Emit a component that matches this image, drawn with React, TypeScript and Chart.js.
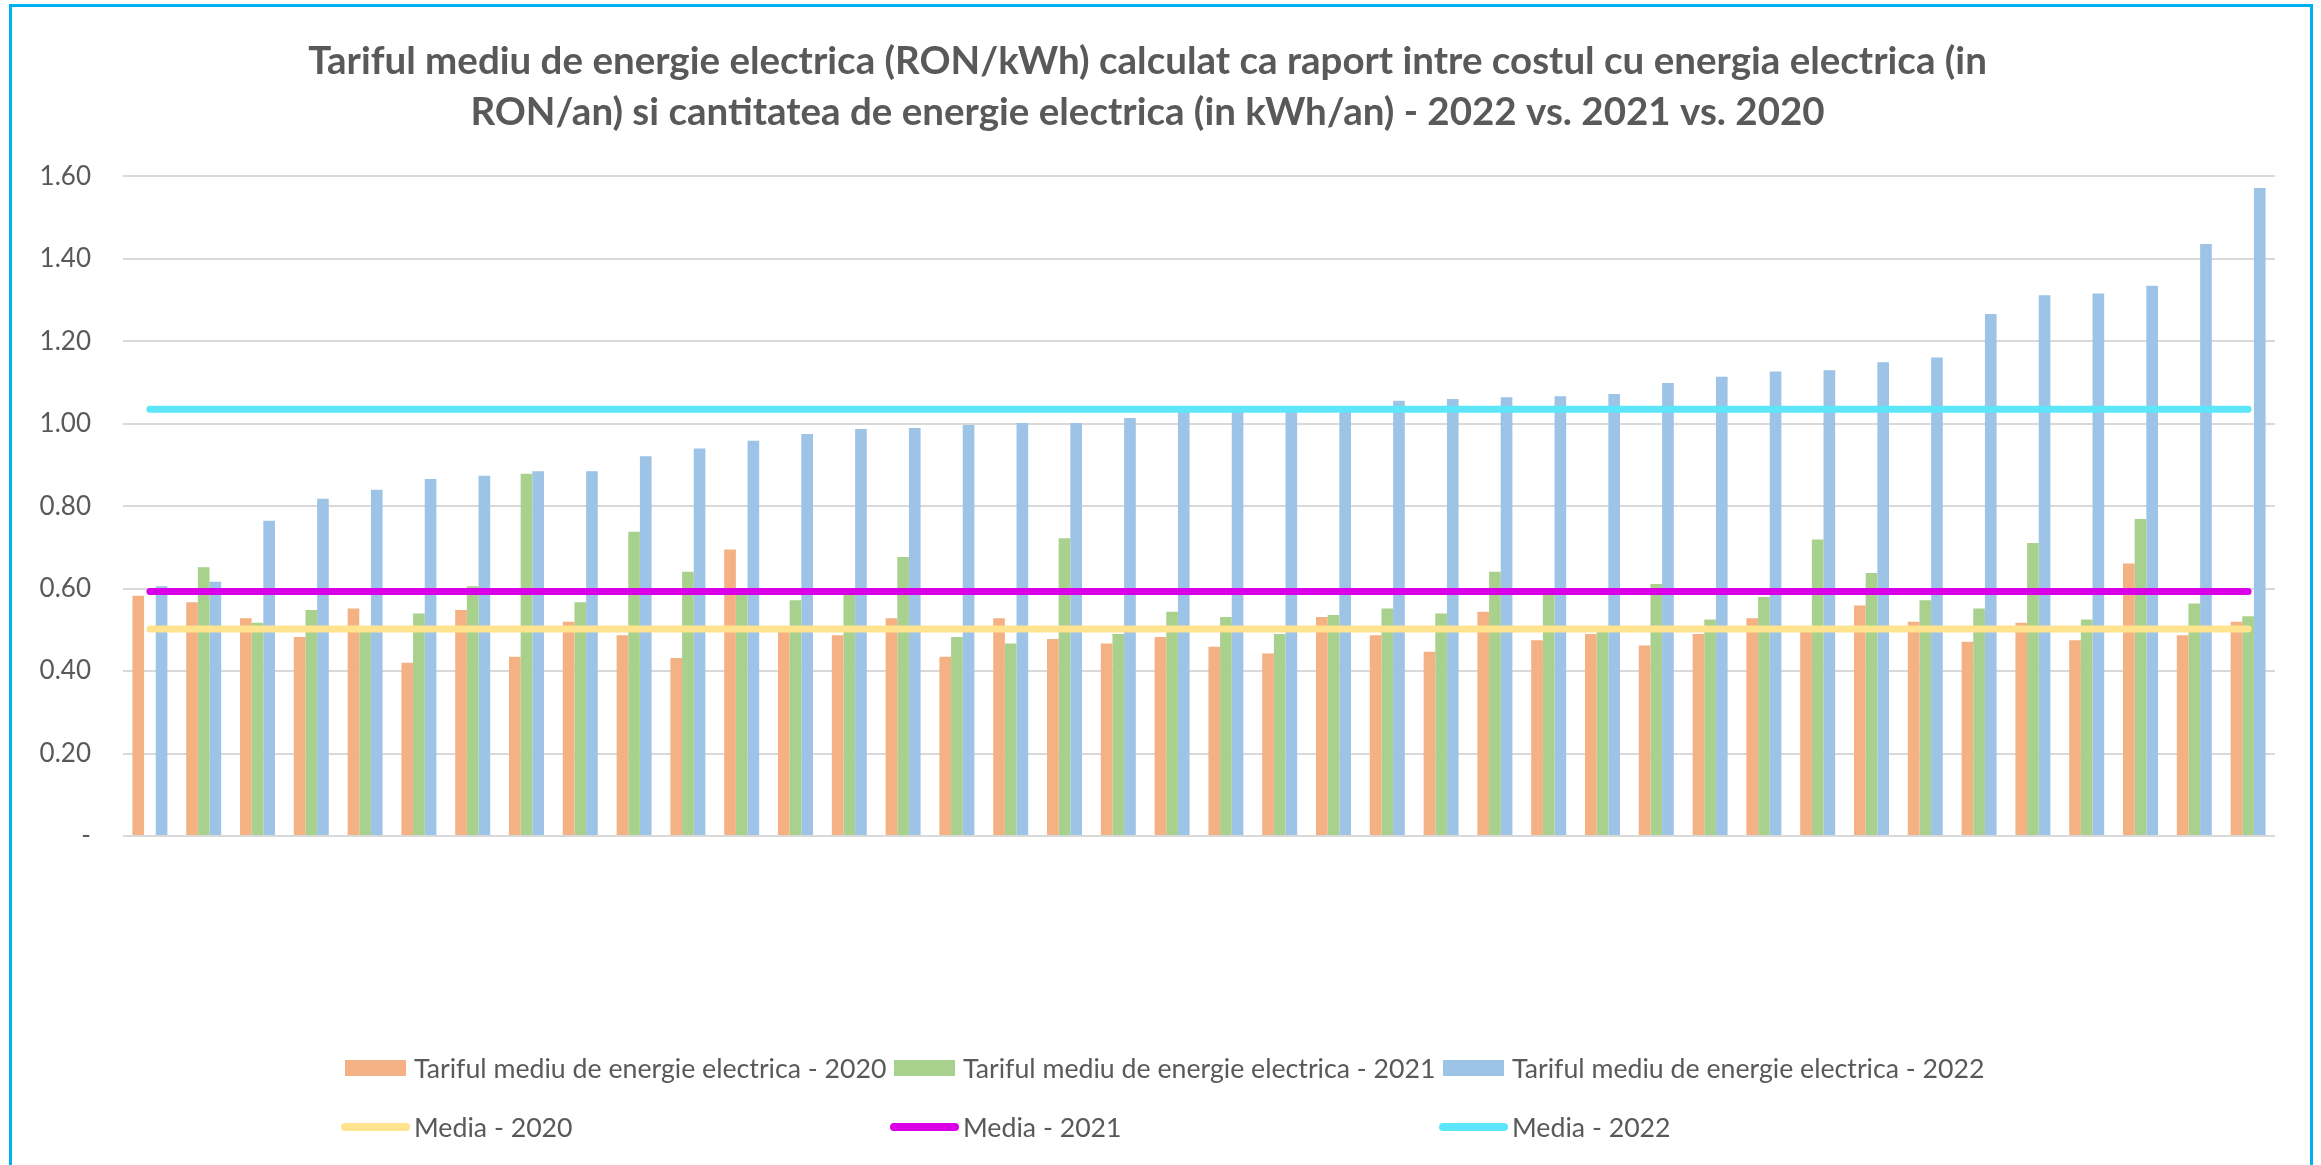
import { useEffect, useRef } from 'react';
import { Chart, registerables } from 'chart.js';

Chart.register(...registerables);

const FONT = 'Lato, "Open Sans", sans-serif';
const TEXT_COLOR = '#595959';

const titleLines = [
  'Tariful mediu de energie electrica (RON/kWh) calculat ca raport intre costul cu energia electrica (in',
  'RON/an) si cantitatea de energie electrica (in kWh/an) - 2022 vs. 2021 vs. 2020',
];

const categories = [
  '1', '2', '3', '4', '5', '6', '7', '8', '9', '10',
  '11', '12', '13', '14', '15', '16', '17', '18', '19', '20',
  '21', '22', '23', '24', '25', '26', '27', '28', '29', '30',
  '31', '32', '33', '34', '35', '36', '37', '38', '39', '40',
];

const tarif2020 = [
  0.583, 0.567, 0.528, 0.483, 0.552, 0.420, 0.548, 0.435, 0.520, 0.487,
  0.432, 0.695, 0.500, 0.487, 0.528, 0.435, 0.528, 0.478, 0.467, 0.483,
  0.459, 0.443, 0.531, 0.487, 0.447, 0.544, 0.475, 0.490, 0.462, 0.490,
  0.528, 0.500, 0.559, 0.520, 0.471, 0.517, 0.475, 0.661, 0.487, 0.520,
];

const tarif2021 = [
  null, 0.652, 0.517, 0.548, 0.500, 0.540, 0.606, 0.879, 0.567, 0.738,
  0.641, 0.585, 0.572, 0.585, 0.677, 0.483, 0.467, 0.722, 0.490, 0.544,
  0.531, 0.490, 0.536, 0.552, 0.540, 0.641, 0.585, 0.495, 0.611, 0.525,
  0.580, 0.719, 0.638, 0.572, 0.552, 0.711, 0.525, 0.769, 0.564, 0.533,
];

const tarif2022 = [
  0.606, 0.617, 0.765, 0.818, 0.840, 0.866, 0.874, 0.885, 0.885, 0.921,
  0.940, 0.959, 0.975, 0.987, 0.990, 0.997, 1.002, 1.002, 1.014, 1.030,
  1.035, 1.036, 1.040, 1.056, 1.060, 1.064, 1.067, 1.072, 1.099, 1.114,
  1.127, 1.130, 1.149, 1.161, 1.266, 1.312, 1.316, 1.335, 1.436, 1.572,
];

const media2020 = [
  0.502, 0.502, 0.502, 0.502, 0.502, 0.502, 0.502, 0.502, 0.502, 0.502,
  0.502, 0.502, 0.502, 0.502, 0.502, 0.502, 0.502, 0.502, 0.502, 0.502,
  0.502, 0.502, 0.502, 0.502, 0.502, 0.502, 0.502, 0.502, 0.502, 0.502,
  0.502, 0.502, 0.502, 0.502, 0.502, 0.502, 0.502, 0.502, 0.502, 0.502,
];

const media2021 = [
  0.593, 0.593, 0.593, 0.593, 0.593, 0.593, 0.593, 0.593, 0.593, 0.593,
  0.593, 0.593, 0.593, 0.593, 0.593, 0.593, 0.593, 0.593, 0.593, 0.593,
  0.593, 0.593, 0.593, 0.593, 0.593, 0.593, 0.593, 0.593, 0.593, 0.593,
  0.593, 0.593, 0.593, 0.593, 0.593, 0.593, 0.593, 0.593, 0.593, 0.593,
];

const media2022 = [
  1.035, 1.035, 1.035, 1.035, 1.035, 1.035, 1.035, 1.035, 1.035, 1.035,
  1.035, 1.035, 1.035, 1.035, 1.035, 1.035, 1.035, 1.035, 1.035, 1.035,
  1.035, 1.035, 1.035, 1.035, 1.035, 1.035, 1.035, 1.035, 1.035, 1.035,
  1.035, 1.035, 1.035, 1.035, 1.035, 1.035, 1.035, 1.035, 1.035, 1.035,
];

const barLabels = [
  'Tariful mediu de energie electrica - 2020',
  'Tariful mediu de energie electrica - 2021',
  'Tariful mediu de energie electrica - 2022',
];
const lineLabels = ['Media - 2020', 'Media - 2021', 'Media - 2022'];

const barColors = ['#F4B183', '#A9D18E', '#9DC3E6'];
const lineColors = ['#FFE38F', '#D900E8', '#5DE6FA'];

export default function App() {
  const ref = useRef<HTMLCanvasElement>(null);

  useEffect(() => {
    document.body.style.margin = '0';
    const canvas = ref.current;
    if (!canvas) return;
    const lineDs = (i: number, data: number[]) => ({
      type: 'line',
      label: lineLabels[i],
      data,
      borderColor: lineColors[i],
      backgroundColor: lineColors[i],
      borderWidth: 7,
      borderCapStyle: 'round',
      pointRadius: 0,
      fill: false,
      order: 0,
    });
    const barDs = (i: number, data: (number | null)[]) => ({
      type: 'bar',
      label: barLabels[i],
      data,
      backgroundColor: barColors[i],
      categoryPercentage: 0.65,
      barPercentage: 1,
      order: 1,
    });
    const chart = new Chart(canvas, {
      type: 'bar',
      data: {
        labels: categories,
        datasets: [
          lineDs(0, media2020),
          lineDs(1, media2021),
          lineDs(2, media2022),
          barDs(0, tarif2020),
          barDs(1, tarif2021),
          barDs(2, tarif2022),
        ],
      } as any,
      options: {
        animation: false,
        responsive: false,
        maintainAspectRatio: false,
        layout: { padding: { top: 36, left: 20, right: 46, bottom: 329 } },
        plugins: {
          legend: { display: false },
          tooltip: { enabled: false },
          title: {
            display: true,
            text: titleLines,
            color: TEXT_COLOR,
            font: { family: FONT, size: 38.5, weight: 'bold', lineHeight: 1.33 },
            padding: { top: 0, bottom: 38 },
          },
        },
        scales: {
          x: {
            display: false,
            offset: true,
            grid: { display: false },
          },
          y: {
            min: 0,
            max: 1.6,
            afterFit: (s: any) => {
              s.width = 103;
            },
            border: { display: false },
            grid: { color: '#D9D9D9', lineWidth: 2, drawTicks: false },
            ticks: {
              stepSize: 0.2,
              padding: 32,
              color: TEXT_COLOR,
              font: { family: FONT, size: 26 },
              callback: (v: any) => (Number(v) === 0 ? '-' : Number(v).toFixed(2)),
            },
          },
        },
      } as any,
    });
    return () => chart.destroy();
  }, []);

  const colX = [345, 894, 1443];
  const row1 = 1068;
  const row2 = 1127;
  const textStyle: any = {
    position: 'absolute',
    fontFamily: FONT,
    fontSize: 26.7,
    color: TEXT_COLOR,
    whiteSpace: 'nowrap',
    lineHeight: '32px',
    transform: 'translateY(-50%)',
  };

  return (
    <div
      style={{
        position: 'absolute',
        left: 0,
        top: 0,
        width: 2321,
        height: 1165,
        background: '#ffffff',
        overflow: 'hidden',
      }}
    >
      <canvas
        ref={ref}
        width={2321}
        height={1165}
        style={{ position: 'absolute', left: 0, top: 0, width: 2321, height: 1165 }}
      />
      <div
        style={{
          position: 'absolute',
          left: 9,
          top: 4,
          width: 2298,
          height: 1200,
          borderLeft: '3px solid #00B0F0',
          borderTop: '3px solid #00B0F0',
          borderRight: '3px solid #00B0F0',
          pointerEvents: 'none',
        }}
      />
      {barLabels.map((lab, i) => (
        <div key={lab}>
          <div
            style={{
              position: 'absolute',
              left: colX[i],
              top: row1 - 8,
              width: 61,
              height: 16,
              background: barColors[i],
            }}
          />
          <div style={{ ...textStyle, left: colX[i] + 69, top: row1 }}>{lab}</div>
        </div>
      ))}
      {lineLabels.map((lab, i) => (
        <div key={lab}>
          <div
            style={{
              position: 'absolute',
              left: colX[i] - 4,
              top: row2 - 4,
              width: 69,
              height: 8,
              borderRadius: 4,
              background: lineColors[i],
            }}
          />
          <div style={{ ...textStyle, left: colX[i] + 69, top: row2 }}>{lab}</div>
        </div>
      ))}
    </div>
  );
}
